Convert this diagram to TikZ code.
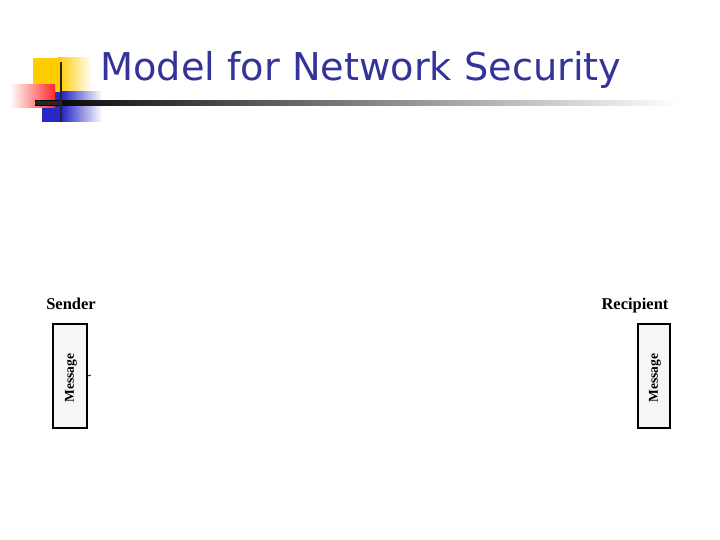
\documentclass[tikz,border=0pt]{standalone}
\usepackage{fontspec}
\setmainfont{Liberation Serif}
\newfontfamily\titlefont{DejaVu Sans}
\usetikzlibrary{shadings}
\definecolor{titleblue}{RGB}{51,51,153}
\definecolor{decoyellow}{RGB}{255,204,0}
\definecolor{decored}{RGB}{255,40,40}
\definecolor{decoblue}{RGB}{40,40,200}
\definecolor{boxfill}{RGB}{246,246,246}
\tikzset{
  msgbox/.style={draw=black, line width=1.3pt, fill=boxfill, minimum width=34pt, minimum height=104pt, inner sep=0pt},
  party/.style={font=\bfseries\fontsize{16.5}{18}\selectfont, inner sep=0pt, anchor=base},
  msgtext/.style={font=\bfseries\fontsize{13.5}{15}\selectfont, rotate=90, inner sep=0pt},
}
\begin{document}
\begin{tikzpicture}[x=1pt,y=-1pt]
\useasboundingbox (0,0) rectangle (720,540);
% decoration
\shade[left color=decoyellow, right color=white] (58,58) rectangle (92,92);
\fill[decoyellow] (33,58) rectangle (60,92);
\shade[left color=decoblue, right color=white] (62,92) rectangle (102,122);
\fill[decoblue] (42,92) rectangle (62,122);
\shade[left color=white, right color=decored] (10,85) rectangle (55,108);
\shade[left color=black, right color=white] (35,101) rectangle (680,105.5);
\fill[black!85] (35,101) rectangle (60,105.5);
\fill[black!85] (59.8,62) rectangle (62.2,122);
% title
\node[anchor=base west, inner sep=0pt, text=titleblue, font=\titlefont\fontsize{38.3}{44}\selectfont] (title) at (100,81) {Model for Network Security};
% sender
\node[party] (sender) at (71,309) {Sender};
\node[msgbox] (sbox) at (70,376) {};
\node[msgtext] (smsg) at (71,378) {Message};
\coordinate (stick) at (91,375);
\draw[line width=0.8pt] (sbox.east) -- (stick);
% recipient
\node[party] (recip) at (635,309) {Recipient};
\node[msgbox, minimum width=32pt] (rbox) at (654,376) {};
\node[msgtext] (rmsg) at (655,378) {Message};
\end{tikzpicture}
\end{document}
